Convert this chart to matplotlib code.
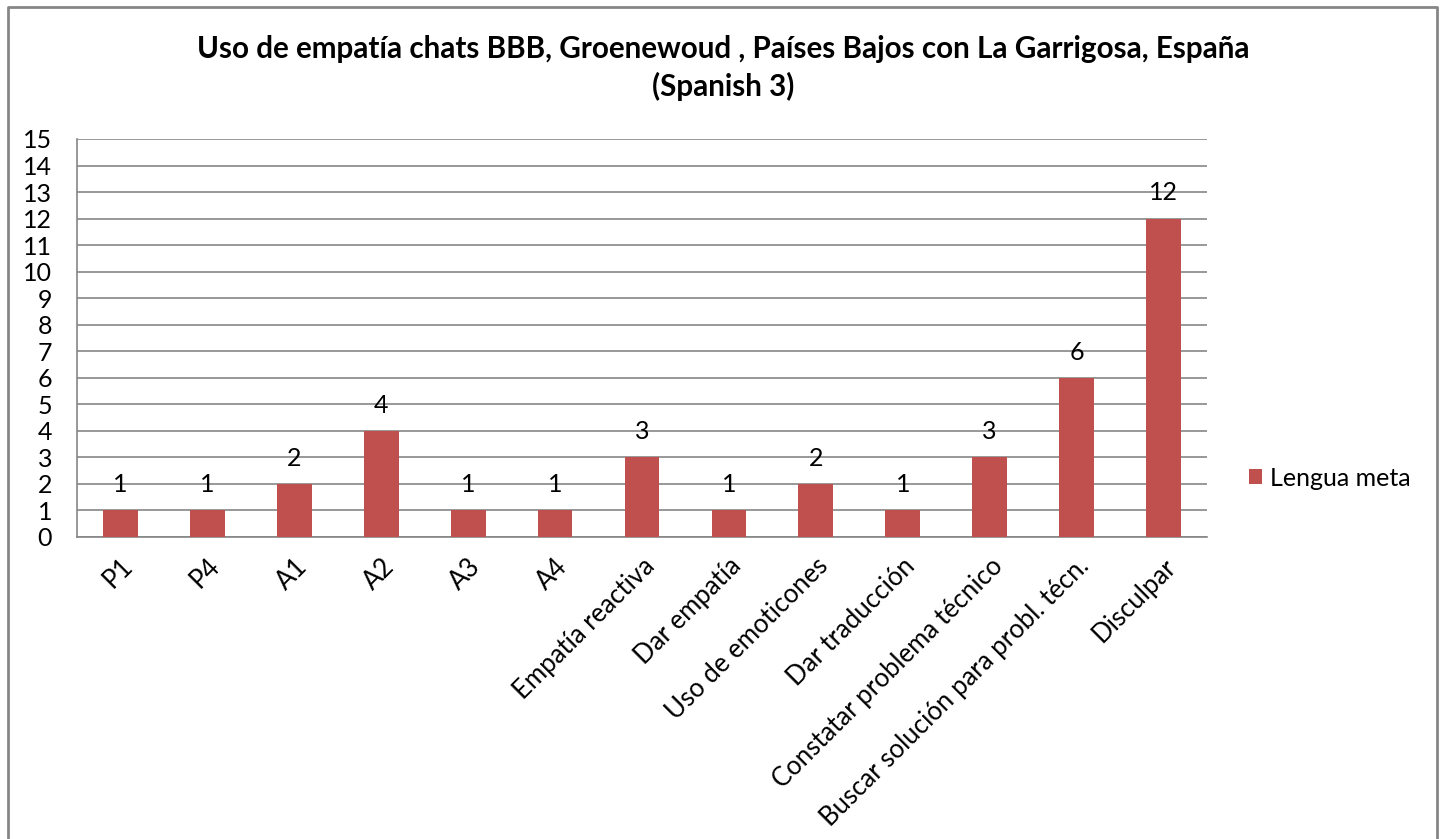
import matplotlib.pyplot as plt
from matplotlib.lines import Line2D

categories = ["P1", "P4", "A1", "A2", "A3", "A4", "Empatía reactiva",
              "Dar empatía", "Uso de emoticones", "Dar traducción",
              "Constatar problema técnico", "Buscar solución para probl. técn.",
              "Disculpar"]
values = [1, 1, 2, 4, 1, 1, 3, 1, 2, 1, 3, 6, 12]
series_name = "Lengua meta"
title = "Uso de empatía chats BBB, Groenewoud , Países Bajos con La Garrigosa, España\n(Spanish 3)"

BAR = "#C0504D"
GRID = "#868686"


def main():
    plt.rcParams['font.family'] = ['Lato', 'DejaVu Sans']
    fig = plt.figure(figsize=(14.41, 8.39), dpi=100)
    ax = fig.add_axes([77 / 1441, 1 - 537 / 839, 1130 / 1441, 398 / 839])

    x = list(range(len(categories)))
    bars = ax.bar(x, values, width=0.4, color=BAR, label=series_name, zorder=3)

    for b, v in zip(bars, values):
        ax.annotate(str(v), (b.get_x() + b.get_width() / 2, v),
                    xytext=(0, 18.5), textcoords="offset points",
                    ha="center", va="center", fontsize=18, zorder=4)

    ax.set_xlim(-0.5, len(categories) - 0.5)
    ax.set_ylim(0, 15)
    ax.set_yticks(range(0, 16))
    ax.set_yticklabels([str(i) for i in range(16)], fontsize=18)
    ax.set_xticks(x)
    ax.set_xticklabels(categories, rotation=45, ha="right",
                       rotation_mode="anchor", fontsize=18.5)
    ax.tick_params(axis="both", length=0)
    ax.tick_params(axis="y", pad=18)
    ax.tick_params(axis="x", pad=12)

    ax.grid(axis="y", color=GRID, linewidth=1.2, zorder=0)
    for side in ["top", "right"]:
        ax.spines[side].set_visible(False)
    for side in ["left", "bottom"]:
        ax.spines[side].set_color(GRID)
        ax.spines[side].set_linewidth(1.2)

    fig.text(723 / 1441, 1 - 68 / 839, title, ha="center", va="center",
             fontsize=21.3, fontweight="bold", linespacing=1.35)

    fig.legend(loc="center left", bbox_to_anchor=(1226 / 1441, 1 - 478 / 839),
               frameon=False, fontsize=18, handlelength=0.55,
               handleheight=0.55, handletextpad=0.3)

    # outer chart border (left, top, right)
    W, H = 1441, 839
    fig.add_artist(Line2D([8 / W, 8 / W, 1437 / W, 1437 / W],
                          [0, 1 - 7 / H, 1 - 7 / H, 0],
                          transform=fig.transFigure, color=GRID, linewidth=2))

    fig.savefig("out.png", dpi=100)
    plt.close()


if __name__ == "__main__":
    main()
